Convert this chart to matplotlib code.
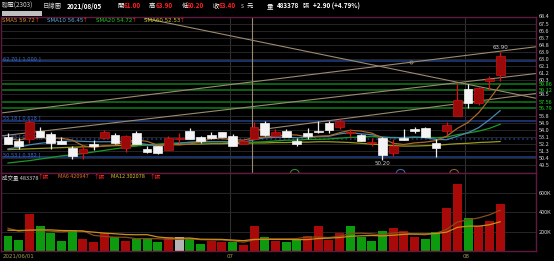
import numpy as np
import matplotlib.pyplot as plt
from matplotlib.patches import Arc, Rectangle
from matplotlib.transforms import blended_transform_factory

plt.rcParams['font.family'] = ['Noto Sans CJK TC', 'DejaVu Sans']

# ---- data (UMC 2303, daily, 2021/06/01 - 2021/08/05) ----
opens = [53.05, 52.6, 52.8, 53.9, 53.5, 52.65, 51.7, 51.05, 52.25, 53.0,
         53.35, 51.7, 53.6, 51.55, 51.9, 51.45, 52.9, 53.8, 53.15, 53.35,
         53.7, 53.25, 52.2, 52.85, 54.85, 53.25, 53.9, 52.6, 53.65, 53.8,
         54.85, 54.4, 53.6, 53.35, 52.35, 53.0, 51.1, 53.0, 54.1, 54.2,
         52.4, 53.9, 55.75, 59.25, 57.45, 60.2, 61.0]
highs = [53.6, 53.0, 55.25, 54.35, 53.75, 53.05, 51.95, 51.9, 52.7, 54.0,
         53.6, 53.35, 53.8, 51.95, 51.95, 53.25, 53.6, 54.2, 53.2, 53.7,
         53.75, 53.45, 52.8, 55.05, 55.15, 54.1, 54.1, 52.95, 54.2, 55.15,
         55.15, 55.35, 54.1, 53.45, 53.0, 53.05, 52.8, 54.1, 54.35, 54.35,
         52.8, 55.05, 59.9, 59.8, 59.4, 60.8, 63.9]
lows = [52.15, 51.6, 52.3, 53.05, 51.55, 52.2, 50.3, 50.35, 51.45, 52.85,
        52.2, 51.25, 52.2, 51.05, 51.0, 51.4, 52.3, 52.85, 52.4, 52.85,
        53.05, 52.0, 52.15, 52.85, 53.25, 53.05, 53.05, 51.9, 52.85, 53.6,
        53.6, 54.1, 53.05, 52.65, 51.95, 50.2, 50.7, 52.75, 53.6, 53.05,
        50.55, 53.35, 55.75, 56.75, 57.15, 59.05, 60.2]
closes = [52.2, 52.0, 55.05, 53.05, 52.4, 52.2, 50.7, 51.55, 51.9, 53.75,
          52.4, 53.25, 52.2, 51.25, 51.05, 53.0, 53.0, 52.85, 52.65, 53.0,
          53.1, 52.0, 52.6, 54.35, 53.35, 53.7, 53.05, 52.2, 53.25, 53.75,
          54.0, 55.15, 53.7, 52.65, 52.45, 50.85, 51.95, 52.75, 53.8, 53.05,
          51.75, 54.6, 57.8, 57.45, 59.35, 60.5, 63.4]
prev_close0 = 52.6

volume_k = [153, 111, 382, 257, 181, 104, 216, 119, 98, 181,
            140, 101, 125, 122, 91, 146, 146, 125, 70, 108,
            91, 91, 63, 260, 143, 101, 91, 119, 150, 260,
            115, 181, 254, 143, 108, 202, 233, 208, 140, 119,
            198, 442, 695, 341, 257, 313, 483.378]
vol_ma6 = [235, 205, 215, 215, 205, 198, 208, 210, 162, 150,
           143, 142, 127, 128, 127, 121, 122, 126, 117, 114,
           114, 105, 91, 114, 126, 125, 125, 129, 144, 144,
           139, 153, 180, 184, 177, 167, 187, 191, 172, 168,
           183, 223, 300, 322, 342, 374, 420.947]
vol_ma12 = [215, 212, 215, 218, 218, 212, 210, 205, 195, 185,
            178, 170, 168, 169, 145, 135, 132, 134, 122, 121,
            120, 113, 107, 120, 121, 120, 120, 117, 118, 129,
            133, 139, 152, 157, 160, 156, 163, 172, 176, 176,
            180, 195, 244, 257, 257, 271, 302.078]

sma5 = [52.9, 52.7, 53.0, 53.0, 52.95, 52.95, 52.7, 52.0, 51.75, 52.0,
        52.05, 52.55, 52.7, 52.55, 52.05, 52.15, 52.1, 52.2, 52.5, 52.9,
        52.9, 52.75, 52.7, 53.0, 53.1, 53.2, 53.4, 53.35, 53.1, 53.2,
        53.25, 53.65, 53.95, 53.85, 53.6, 52.95, 52.3, 52.15, 52.35, 52.45,
        52.65, 53.2, 54.2, 54.95, 56.2, 57.9, 59.72]
sma10 = [51.6, 51.8, 52.1, 52.3, 52.45, 52.55, 52.6, 52.55, 52.5, 52.5,
         52.5, 52.6, 52.35, 52.15, 52.0, 52.1, 52.3, 52.45, 52.5, 52.5,
         52.5, 52.4, 52.45, 52.75, 53.0, 53.05, 53.1, 53.0, 53.05, 53.15,
         53.2, 53.5, 53.65, 53.5, 53.4, 53.1, 53.0, 53.05, 53.1, 53.0,
         52.8, 52.75, 53.2, 53.65, 54.3, 55.3, 56.45]
sma20 = [49.8, 49.95, 50.1, 50.3, 50.5, 50.7, 50.85, 51.0, 51.2, 51.4,
         51.6, 51.8, 51.95, 52.1, 52.2, 52.3, 52.35, 52.4, 52.45, 52.5,
         52.5, 52.5, 52.4, 52.45, 52.5, 52.6, 52.7, 52.7, 52.8, 52.8,
         52.85, 52.95, 53.05, 53.1, 53.2, 53.05, 53.05, 53.0, 53.05, 53.1,
         53.0, 53.1, 53.4, 53.6, 53.85, 54.2, 54.72]
sma60 = [51.5, 51.55, 51.6, 51.65, 51.7, 51.75, 51.8, 51.85, 51.9, 51.95,
         52.0, 52.05, 52.05, 52.1, 52.1, 52.15, 52.15, 52.2, 52.2, 52.25,
         52.25, 52.3, 52.3, 52.35, 52.35, 52.4, 52.4, 52.45, 52.45, 52.5,
         52.5, 52.45, 52.4, 52.3, 52.2, 52.1, 52.0, 51.95, 51.95, 52.0,
         52.05, 52.15, 52.25, 52.3, 52.4, 52.45, 52.53]

month_starts = [21, 43]
month_labels = ['07', '08']
fib_levels = [62.70, 55.18, 52.85, 50.53]
fib_ratios = ['1.000', '0.618', '0.500', '0.382']
support_levels = [59.86, 59.12, 57.56, 56.79]
price_ticks = [49.5, 50.4, 51.3, 52.2, 53.1, 54.0, 54.9, 55.8, 58.5, 60.3,
               61.2, 62.1, 63.0, 63.9, 64.8, 65.7, 66.6, 67.5, 68.4]
vol_ticks = [200, 400, 600]
# trend lines as (bar index, price) end points
trend_lines = [((12.8, 68.17), (49.3, 58.03)),
               ((-0.75, 56.13), (49.35, 64.56)),
               ((-0.75, 53.22), (49.35, 61.16)),
               ((22.8, 53.89), (49.35, 58.63))]
marker_line_x = 22.8
cycle_marks = [26.8, 36.7, 41.7]

# ---- layout ----
W, H = 554, 261
fig = plt.figure(figsize=(W / 100, H / 100), dpi=100, facecolor='black')

def px_axes(x0, y0, x1, y1):
    return fig.add_axes([x0 / W, 1 - y1 / H, (x1 - x0) / W, (y1 - y0) / H])

def ftext(x, y, s, **kw):
    fig.text(x / W, 1 - y / H, s, va='center', ha='left', **kw)

ax = px_axes(1, 16.5, 536, 173)
axv = px_axes(1, 173, 536, 251)

n = len(closes)
x = np.arange(n)
border = '#5e1a3c'
grid_c = '#262626'
for a in (ax, axv):
    a.set_facecolor('black')
    a.set_xlim(-0.654, 49.35)
    a.set_xticks([])
    a.tick_params(axis='y', which='both', length=0, pad=2, labelsize=4,
                  labelcolor='#d8d8d8', left=False, right=True,
                  labelleft=False, labelright=True)
    for s in a.spines.values():
        s.set_color(border)
        s.set_linewidth(1.0)
    for m in month_starts:
        a.axvline(m - 0.25, color='#303030', lw=0.8, zorder=0)

ax.set_ylim(48.53, 68.40)
axv.set_ylim(0, 806)

# price grid & ticks
ax.set_yticks(price_ticks + support_levels)
ax.set_yticklabels([f'{t:.1f}' for t in price_ticks] + [f'{t:.2f}' for t in support_levels])
for lbl in ax.get_yticklabels()[len(price_ticks):]:
    lbl.set_color('#22dd22')
for t in price_ticks:
    ax.axhline(t, color=grid_c, lw=0.7, zorder=0)

# support lines (green) and fib lines (blue)
for lv in support_levels:
    ax.axhline(lv, color='#0d6a12', lw=1.3, zorder=1)
for lv, r in zip(fib_levels, fib_ratios):
    ls = ':' if r == '0.500' else '-'
    ax.axhline(lv, color='#1d3a78', lw=1.2, ls=ls, zorder=1)
    ax.text(0.004, lv + 0.3, f'{lv:.2f} [ {r} ]', transform=blended_transform_factory(ax.transAxes, ax.transData),
            color='#3a6ad8', fontsize=3.6, va='center', ha='left', family='DejaVu Sans')

# trend lines
for (x0, y0), (x1, y1) in trend_lines:
    ax.plot([x0, x1], [y0, y1], color='#9c8a70', lw=0.8, zorder=2)
ax.axvline(marker_line_x, color='#9c8a70', lw=0.8, zorder=2)
ax.plot(37.7, 62.6, 'o', ms=2.2, mfc='none', mec='#9c8a70', mew=0.6, zorder=2)

# cycle arcs at the bottom of the price panel
for cx, cc in zip(cycle_marks, ['#2a8a2a', '#3a6a9a', '#8a5a30']):
    ax.add_patch(Arc((cx, 48.53), 0.8, 0.9, theta1=0, theta2=180, color=cc, lw=0.8))

# moving averages
ax.plot(x, sma60, color='#9a9a1a', lw=0.9, zorder=3)
ax.plot(x, sma20, color='#1a9a22', lw=0.9, zorder=3)
ax.plot(x, sma10, color='#4a86b0', lw=0.9, zorder=3)
ax.plot(x, sma5, color='#a8682a', lw=0.9, zorder=3)

# candles
o = np.array(opens); c = np.array(closes)
up = c > o
body_lo = np.minimum(o, c)
body_h = np.maximum(np.abs(c - o), 0.07)
wick_col = np.where(up, '#e01010', '#f0f0f0')
ax.vlines(x, lows, highs, colors=wick_col, lw=0.9, zorder=4)
ax.bar(x[up], body_h[up], bottom=body_lo[up], width=0.82,
       color='#9a0a0a', edgecolor='#d01010', lw=0.5, zorder=5)
ax.bar(x[~up], body_h[~up], bottom=body_lo[~up], width=0.82,
       color='#f4f4f4', edgecolor='#f4f4f4', lw=0.5, zorder=5)

imax = int(np.argmax(highs)); imin = int(np.argmin(lows))
ax.text(imax, highs[imax] + 0.25, f'{highs[imax]:.2f}', color='#d0d0d0', fontsize=4,
        ha='center', va='bottom', family='DejaVu Sans')
ax.text(imin, lows[imin] - 0.2, f'{lows[imin]:.2f}', color='#d0d0d0', fontsize=4,
        ha='center', va='top', family='DejaVu Sans')

# volume
chg = np.diff(np.r_[prev_close0, c])
vcol = np.where(chg > 0, '#a80a0a', np.where(chg < 0, '#0e9a0e', '#b4b4b4'))
axv.set_yticks(vol_ticks)
axv.set_yticklabels([f'{v}K' for v in vol_ticks])
for t in vol_ticks:
    axv.axhline(t, color=grid_c, lw=0.7, zorder=0)
axv.bar(x, volume_k, width=0.84, color=vcol, zorder=2)
axv.plot(x, vol_ma6, color='#8a4a1a', lw=0.9, zorder=3)
axv.plot(x, vol_ma12, color='#c8901a', lw=0.9, zorder=3)

# date labels
date_c = '#a89850'
ftext(3, 256, '2021/06/01', color=date_c, fontsize=4, family='DejaVu Sans')
for m, lab in zip(month_starts, month_labels):
    xp = 1 + (m - 0.25 + 0.654) / (49.35 + 0.654) * 535
    ftext(xp - 3, 256, lab, color=date_c, fontsize=4, family='DejaVu Sans')

# header
red = '#ff2020'
hdr = [(2, '聯電(2303)', '#d0d0d0', 'normal'), (43, '日線圖', '#d0d0d0', 'normal'),
       (67, '2021/08/05', 'white', 'bold'), (117, '開', 'white', 'normal'),
       (124, f'{opens[-1]:.2f}', red, 'bold'), (149, '高', 'white', 'normal'),
       (156, f'{highs[-1]:.2f}', red, 'bold'), (182, '低', 'white', 'normal'),
       (187, f'{lows[-1]:.2f}', red, 'bold'), (213, '收', 'white', 'normal'),
       (219, f'{closes[-1]:.2f}', red, 'bold'), (241, 's', '#c0c0c0', 'normal'),
       (247, '元', 'white', 'normal'),
       (267, '量', 'white', 'normal'), (277, f'{volume_k[-1] * 1000:.0f}', 'white', 'bold'),
       (303, '張', 'white', 'normal'),
       (313, f'+{closes[-1] - closes[-2]:.2f} (+{(closes[-1] / closes[-2] - 1) * 100:.2f}%)', 'white', 'bold')]
for xp, s, col, wt in hdr:
    ftext(xp, 6, s, color=col, fontsize=4.6, fontweight=wt)
fig.patches.append(Rectangle((2 / W, 1 - 16 / H), 40 / W, 5.5 / H, transform=fig.transFigure,
                             facecolor='#c0c0c0', edgecolor='none'))

# MA legends
leg = [(2, f'SMA5 {sma5[-1]:.2f}', '#e09030'), (47, f'SMA10 {sma10[-1]:.2f}', '#5aaee0'),
       (96, f'SMA20 {sma20[-1]:.2f}', '#20d020'), (144, f'SMA60 {sma60[-1]:.2f}', '#d0c830')]
for xp, s, col in leg:
    ftext(xp, 20, s, color=col, fontsize=4, family='DejaVu Sans')
    ftext(xp + 3.15 * len(s) + 1, 20, '↑', color=red, fontsize=4, family='DejaVu Sans')

vleg = [(2, '成交量', f'{volume_k[-1] * 1000:.0f}', '#d0d0d0'),
        (58, 'MA6', f'{vol_ma6[-1] * 1000:.0f}', '#e07020'),
        (111, 'MA12', f'{vol_ma12[-1] * 1000:.0f}', '#d8c020')]
for xp, name, val, col in vleg:
    s = f'{name} {val}'
    ftext(xp, 177, s, color=col, fontsize=4)
    ftext(xp + 3.3 * len(s) + 2, 177, '↑張', color=red, fontsize=4)

fig.savefig('out.png', dpi=100, facecolor='black')
